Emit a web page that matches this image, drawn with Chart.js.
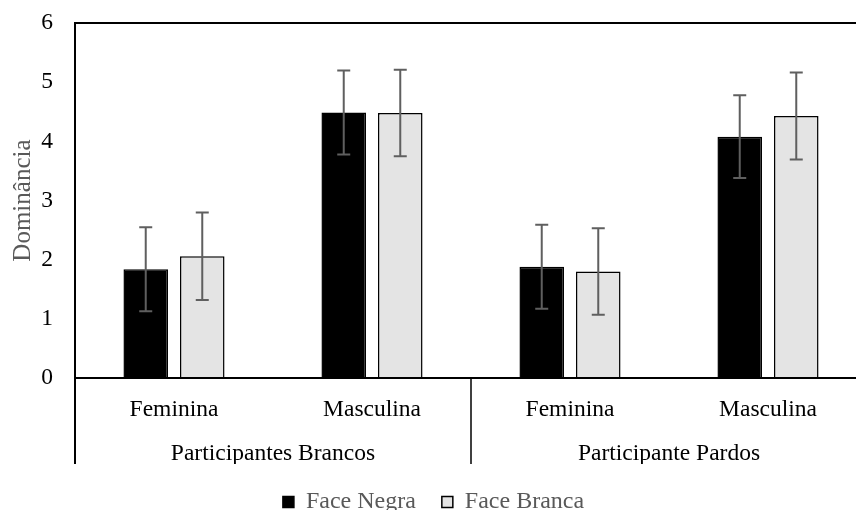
<!DOCTYPE html>
<html lang="pt">
<head>
  <meta charset="UTF-8">
  <title>Dominância por face</title>
  <script src="https://cdn.jsdelivr.net/npm/chart.js"></script>
  <style>
    body {
      margin: 0;
      padding: 0;
      background-color: white;
      overflow: hidden;
    }

    #chartBox {
      width: 880px;
      height: 510px;
    }
  </style>
</head>
<body>

<div id="chartBox">
  <canvas id="domChart" width="880" height="510"></canvas>
</div>

<script>
  var categories = ['Feminina', 'Masculina', 'Feminina', 'Masculina'];
  var groups = ['Participantes Brancos', 'Participante Pardos'];

  var faceNegra = [1.84, 4.49, 1.88, 4.08];
  var faceNegraErr = [0.71, 0.71, 0.71, 0.70];
  var faceBranca = [2.06, 4.48, 1.80, 4.43];
  var faceBrancaErr = [0.74, 0.73, 0.73, 0.735];

  var yMin = 0;
  var yMax = 6;
  var yStep = 1;

  var serif = "'Liberation Serif', 'Times New Roman', serif";

  // error bars, drawn from the bar elements and the y scale
  var errorBarPlugin = {
    id: 'errorBars',
    afterDatasetsDraw: function (chart) {
      var ctx = chart.ctx;
      var yScale = chart.scales.y;
      var errs = [faceNegraErr, faceBrancaErr];
      ctx.save();
      ctx.strokeStyle = '#5f5f5f';
      ctx.lineWidth = 2;
      chart.data.datasets.forEach(function (ds, d) {
        var meta = chart.getDatasetMeta(d);
        meta.data.forEach(function (bar, i) {
          var v = ds.data[i];
          var e = errs[d][i];
          var top = yScale.getPixelForValue(v + e);
          var bot = yScale.getPixelForValue(v - e);
          ctx.beginPath();
          ctx.moveTo(bar.x, top);
          ctx.lineTo(bar.x, bot);
          ctx.moveTo(bar.x - 6.5, top);
          ctx.lineTo(bar.x + 6.5, top);
          ctx.moveTo(bar.x - 6.5, bot);
          ctx.lineTo(bar.x + 6.5, bot);
          ctx.stroke();
        });
      });
      ctx.restore();
    }
  };

  // plot frame, zero line and the group dividers under the axis
  var framePlugin = {
    id: 'frame',
    afterDraw: function (chart) {
      var ctx = chart.ctx;
      var area = chart.chartArea;
      var xScale = chart.scales.x;
      var x2 = chart.scales.x2;
      var zeroY = chart.scales.y.getPixelForValue(0);
      var lineEnd = x2.top + 42;
      var mid = (xScale.getPixelForTick(1) + xScale.getPixelForTick(2)) / 2;
      ctx.save();
      ctx.strokeStyle = 'black';
      ctx.lineWidth = 2;
      ctx.beginPath();
      ctx.moveTo(area.left, lineEnd);
      ctx.lineTo(area.left, area.top);
      ctx.lineTo(area.right, area.top);
      ctx.moveTo(area.left, zeroY);
      ctx.lineTo(area.right, zeroY);
      ctx.stroke();
      ctx.lineWidth = 1.5;
      ctx.beginPath();
      ctx.moveTo(mid, zeroY);
      ctx.lineTo(mid, lineEnd);
      ctx.stroke();
      ctx.restore();
    }
  };

  var ctx = document.getElementById('domChart').getContext('2d');

  var domChart = new Chart(ctx, {
    type: 'bar',
    data: {
      labels: categories,
      datasets: [{
        label: 'Face Negra',
        data: faceNegra,
        backgroundColor: '#000000',
        borderColor: '#000000',
        borderWidth: 1.5
      }, {
        label: 'Face Branca',
        data: faceBranca,
        backgroundColor: '#e4e4e4',
        borderColor: '#000000',
        borderWidth: 1.5
      }]
    },
    options: {
      responsive: false,
      animation: false,
      devicePixelRatio: 1,
      categoryPercentage: 0.571,
      barPercentage: 0.788,
      layout: {
        padding: { top: 23, right: 13, left: 0, bottom: -14 }
      },
      scales: {
        y: {
          min: yMin,
          max: yMax,
          ticks: {
            stepSize: yStep,
            padding: 9,
            color: '#000000',
            font: { family: serif, size: 23.5 }
          },
          grid: { display: false, drawTicks: true, tickLength: 13 },
          border: { display: false },
          title: {
            display: true,
            text: 'Dominância',
            color: '#595959',
            padding: { top: 8, bottom: 0 },
            font: { family: serif, size: 25 }
          },
          afterFit: function (scale) { scale.width = 75; }
        },
        x: {
          weight: 0,
          offset: true,
          ticks: {
            padding: 18,
            color: '#000000',
            maxRotation: 0,
            font: { family: serif, size: 23.5 }
          },
          grid: { display: false, drawTicks: false },
          border: { display: false },
          afterFit: function (scale) { scale.height = 44; }
        },
        x2: {
          type: 'category',
          labels: groups,
          position: 'bottom',
          weight: 1,
          offset: true,
          ticks: {
            padding: 18,
            color: '#000000',
            maxRotation: 0,
            font: { family: serif, size: 23.5 }
          },
          grid: { display: false, drawTicks: false },
          border: { display: false },
          afterFit: function (scale) { scale.height = 42; }
        }
      },
      plugins: {
        legend: {
          position: 'bottom',
          labels: {
            boxWidth: 11,
            boxHeight: 11,
            padding: 26,
            color: '#595959',
            font: { family: serif, size: 24 }
          }
        },
        tooltip: { enabled: false }
      }
    },
    plugins: [errorBarPlugin, framePlugin]
  });
</script>

</body>
</html>
